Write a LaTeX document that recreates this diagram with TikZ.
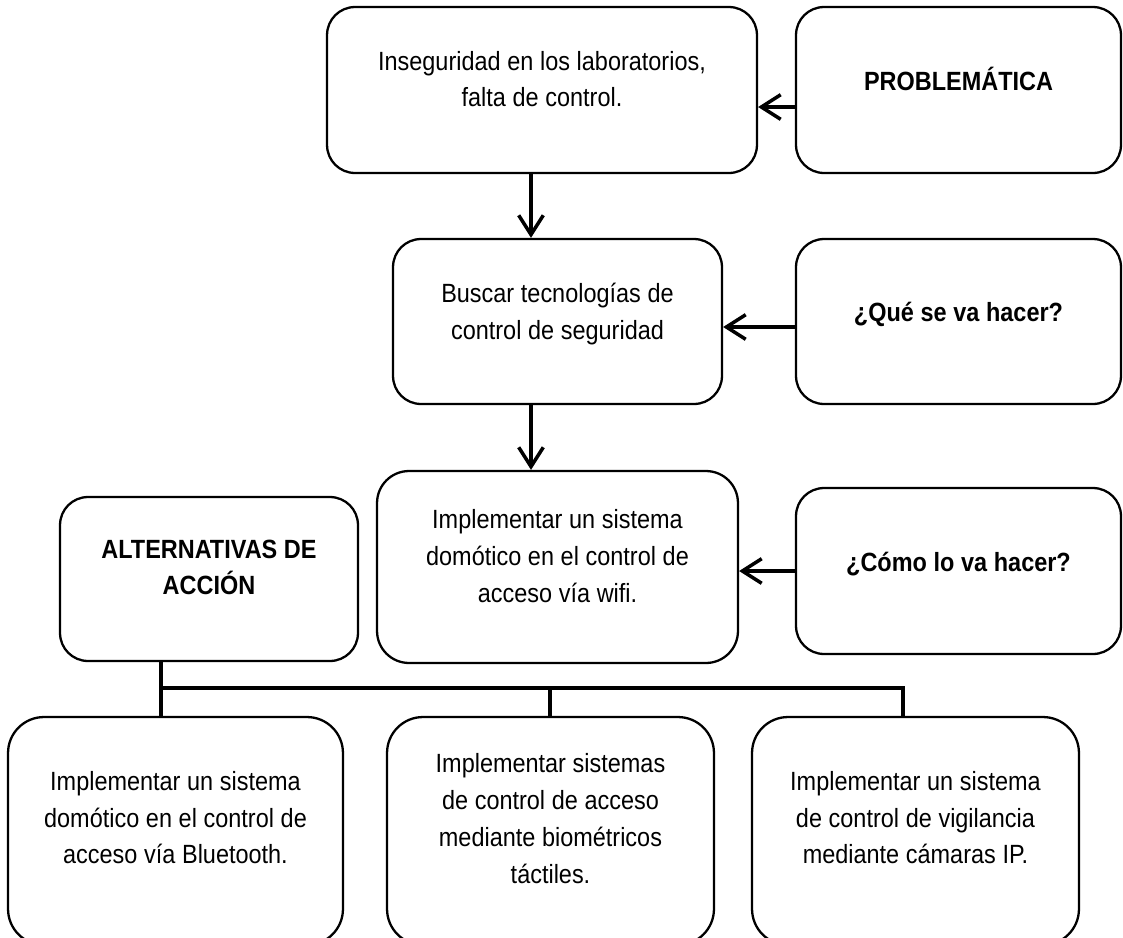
\documentclass[tikz,border=0pt]{standalone}
\usepackage{fontspec}
\setmainfont{Liberation Sans}[FakeStretch=0.89]
\usetikzlibrary{arrows.meta}

\begin{document}
\begin{tikzpicture}[
		x=0.02cm, y=-0.02cm,
		font=\fontsize{15pt}{21pt}\selectfont,
		>={Straight Barb[length=11pt,width=14pt]},
		line/.style={->, line width=2pt},
		tree/.style={line width=2.2pt},
		box/.style={draw, line width=1.3pt, rounded corners=0.56cm, align=center, inner sep=0pt, text height=0pt, text depth=0pt,
			execute at begin node={\spaceskip=3.8pt\relax}},
		head/.style={box, font=\fontsize{15pt}{21pt}\selectfont\bfseries},
		sz/.style 2 args={minimum width=#1, text width=#1, minimum height=#2}
		]
		\clip (0,0) rectangle (1123,937);
		
		% Central column
		\node[box, sz={8.6cm}{3.32cm}, text depth=22.7pt] (ins) at (542,90) {Inseguridad en los laboratorios,\\falta de control.};
		\node[box, sz={6.58cm}{3.3cm}, text depth=22pt] (bus) at (557.5,321.5) {Buscar tecnologías de\\control de seguridad};
		\node[box, sz={7.22cm}{3.84cm}, rounded corners=0.64cm, text depth=44pt] (imp) at (557.5,567) {Implementar un sistema\\domótico en el control de\\acceso vía wifi.};
		
		% Questions on the right
		\node[head, sz={6.5cm}{3.32cm}] (prob) at (958.5,90) {PROBLEMÁTICA};
		\node[head, sz={6.5cm}{3.3cm}] (que) at (958.5,321.5) {¿Qué se va hacer?};
		\node[head, sz={6.5cm}{3.32cm}] (como) at (958.5,571) {¿Cómo lo va hacer?};
		
		% Alternatives
		\node[head, sz={5.96cm}{3.28cm}, text depth=23.8pt] (alt) at (209,579) {ALTERNATIVAS DE\\ACCIÓN};
		\node[box, sz={6.7cm}{4.56cm}, rounded corners=0.72cm, text depth=46.5pt] (alt1) at (175.5,831) {Implementar un sistema\\domótico en el control de\\acceso vía Bluetooth.};
		\node[box, sz={6.54cm}{4.56cm}, rounded corners=0.72cm, text depth=66.3pt] (alt2) at (550.5,831) {Implementar sistemas\\de control de acceso\\mediante biométricos\\táctiles.};
		\node[box, sz={6.54cm}{4.56cm}, rounded corners=0.72cm, text depth=46.5pt] (alt3) at (915.5,831) {Implementar un sistema\\de control de vigilancia\\mediante cámaras IP.};
		
		% Vertical flow
		\coordinate (ax) at (531,0);
		\draw[line] (ins.south -| ax) -- (bus.north -| ax);
		\draw[line] (bus.south -| ax) -- (imp.north -| ax);
		
		% Questions feed the column
		\draw[line] ([yshift=-0.34cm]prob.west) -- ([yshift=-0.34cm]prob.west -| ins.east);
		\draw[line] ([yshift=-0.11cm]que.west) -- ([yshift=-0.11cm]que.west -| bus.east);
		\draw[line] (como.west) -- (como.west -| imp.east);
		
		% Branches
		\coordinate (j1) at (161,688);
		\coordinate (j2) at (550,688);
		\coordinate (j3) at (903,688);
		\draw[tree] (alt.south -| j1) -- (alt1.north -| j1);
		\draw[tree] (j1) -- (j3) -- (alt3.north -| j3);
		\draw[tree] (j2) -- (alt2.north -| j2);
	\end{tikzpicture}
\end{document}
